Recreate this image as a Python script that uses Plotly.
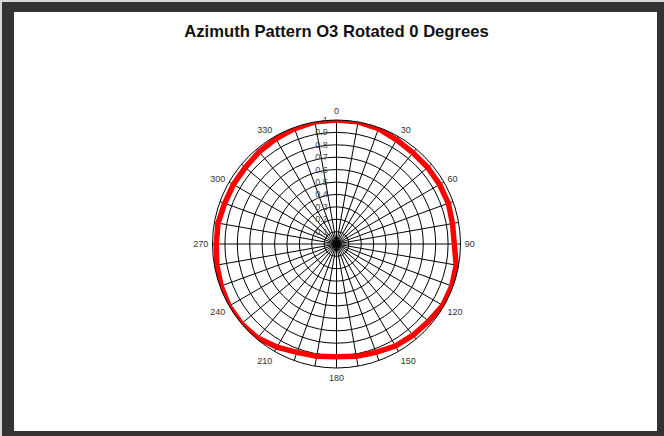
import plotly.graph_objects as go

theta_deg = [0, 10, 20, 30, 40, 50, 60, 70, 80, 90, 100, 110, 120, 130, 140, 150, 160, 170,
             180, 190, 200, 210, 220, 230, 240, 250, 260, 270, 280, 290, 300, 310, 320, 330, 340, 350]
gain = [1.0, 1.0, 0.99, 0.97, 0.96, 0.96, 0.96, 0.96, 0.95, 0.95, 0.98, 0.99, 0.99, 0.97, 0.96, 0.95, 0.93, 0.92,
        0.91, 0.92, 0.93, 0.96, 0.99, 1.0, 1.0, 0.99, 0.98, 0.97, 0.97, 0.96, 0.96, 0.96, 0.97, 0.98, 0.99, 1.0]
angle_ticks = list(range(0, 360, 10))
angle_labels = [str(a) if a % 30 == 0 else "" for a in angle_ticks]
radial_ticks = [0.1, 0.2, 0.3, 0.4, 0.5, 0.6, 0.7, 0.8, 0.9, 1.0]
radial_labels = ["0.1", "0.2", "0.3", "0.4", "0.5", "0.6", "0.7", "0.8", "0.9", "1"]

W, H = 664, 436
cx, cy, R = 336.5, 244, 124

fig = go.Figure()
fig.add_trace(go.Scatterpolar(
    r=gain + [gain[0]], theta=theta_deg + [theta_deg[0]],
    mode="lines", line=dict(color="#ff0000", width=5.5), showlegend=False, hoverinfo="skip"))

fig.update_layout(
    width=W, height=H,
    margin=dict(l=0, r=0, t=0, b=0),
    paper_bgcolor="#333333",
    font=dict(family="Liberation Sans, Arial, sans-serif", color="#333333"),
    title=dict(text="<b>Azimuth Pattern O3 Rotated 0 Degrees</b>", x=336.5 / W, xanchor="center",
               y=1 - 31 / H, yanchor="middle", font=dict(size=16.6, color="#111111")),
    shapes=[
        dict(type="rect", xref="paper", yref="paper", layer="below",
             x0=0, x1=2 / W, y0=0, y1=1, fillcolor="#d8d8d8", line=dict(width=0)),
        dict(type="rect", xref="paper", yref="paper", layer="below",
             x0=0, x1=1, y0=(H - 2) / H, y1=1, fillcolor="#d8d8d8", line=dict(width=0)),
        dict(type="rect", xref="paper", yref="paper", layer="below",
             x0=14 / W, x1=657 / W, y0=(H - 431) / H, y1=(H - 12) / H,
             fillcolor="white", line=dict(width=0)),
    ],
    polar=dict(
        domain=dict(x=[(cx - R) / W, (cx + R) / W], y=[(H - cy - R) / H, (H - cy + R) / H]),
        bgcolor="white",
        angularaxis=dict(rotation=90, direction="clockwise", tickmode="array",
                         tickvals=angle_ticks, ticktext=angle_labels,
                         showgrid=True, gridcolor="black", gridwidth=1,
                         showline=True, linecolor="black", linewidth=1,
                         ticks="outside", ticklen=2, tickcolor="rgba(0,0,0,0)",
                         tickfont=dict(size=9, color="#333333")),
        radialaxis=dict(range=[0, 1], tickmode="array", tickvals=radial_ticks, ticktext=radial_labels,
                        showgrid=True, gridcolor="black", gridwidth=1, showline=False,
                        ticks="outside", ticklen=5, tickcolor="rgba(0,0,0,0)",
                        angle=90, tickangle=90, side="counterclockwise",
                        tickfont=dict(size=9, color="#444444")),
    ),
)
fig.write_html("out.html", post_script="document.body.style.margin='0';",
               config={"displayModeBar": False})
